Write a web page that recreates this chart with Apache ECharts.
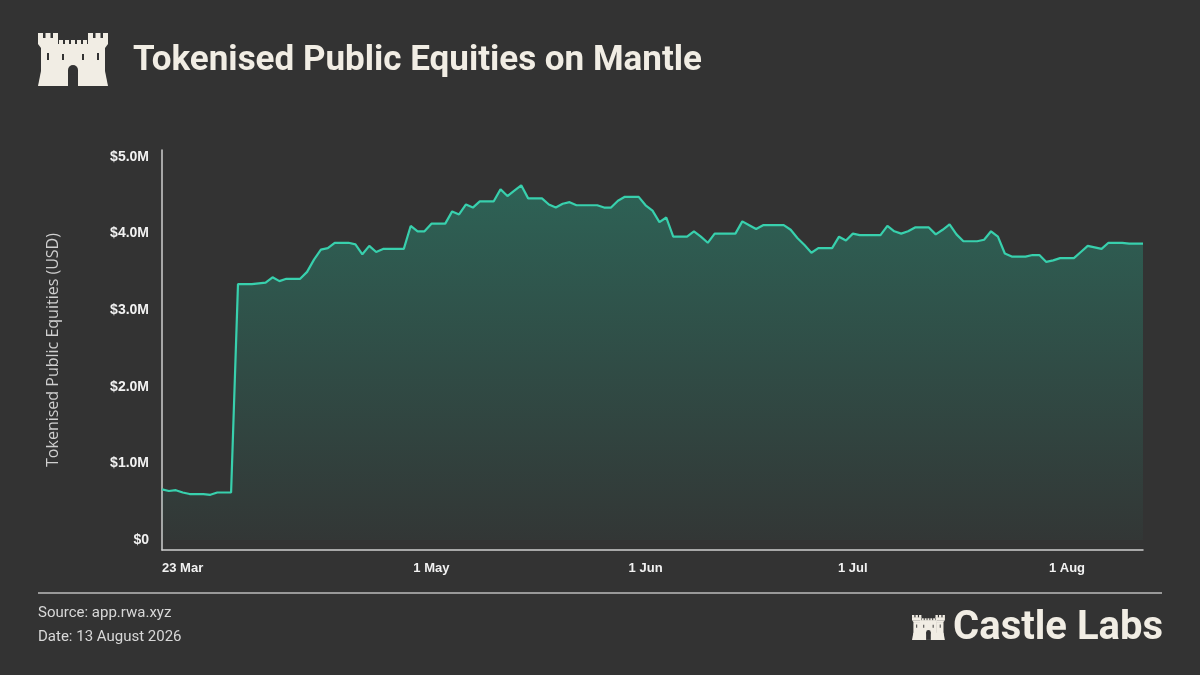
<!DOCTYPE html>
<html>
<head>
<meta charset="utf-8">
<script src="https://cdn.jsdelivr.net/npm/echarts@6/dist/echarts.min.js"></script>
<style>
html,body{margin:0;padding:0;background:#333333;}
#chart{width:1200px;height:675px;}
</style>
</head>
<body>
<div id="chart"></div>
<script>
// ---- data (values in $M, one point per day from 23 Mar) ----
const startDate = [2026, 2, 23]; // 23 Mar 2026
const values = [
  0.66,0.64,0.65,0.62,0.60,0.60,0.60,0.59,0.62,0.62,
  0.62,3.34,3.34,3.34,3.35,3.36,3.43,3.38,3.41,3.41,
  3.41,3.50,3.66,3.79,3.81,3.88,3.88,3.88,3.86,3.73,
  3.84,3.76,3.80,3.80,3.80,3.80,4.10,4.03,4.03,4.13,
  4.13,4.13,4.29,4.25,4.38,4.34,4.42,4.42,4.42,4.58,
  4.49,4.56,4.63,4.46,4.46,4.46,4.38,4.34,4.39,4.41,
  4.37,4.37,4.37,4.37,4.34,4.34,4.43,4.48,4.48,4.48,
  4.37,4.30,4.15,4.21,3.96,3.96,3.96,4.03,3.96,3.88,
  4.00,4.00,4.00,4.00,4.16,4.11,4.06,4.11,4.11,4.11,
  4.11,4.05,3.94,3.85,3.75,3.81,3.81,3.81,3.96,3.91,
  4.00,3.98,3.98,3.98,3.98,4.10,4.03,4.00,4.03,4.08,
  4.08,4.08,3.99,4.05,4.12,3.99,3.90,3.90,3.90,3.92,
  4.03,3.96,3.74,3.70,3.70,3.70,3.72,3.72,3.63,3.65,
  3.68,3.68,3.68,3.76,3.84,3.82,3.80,3.88,3.88,3.88,
  3.87,3.87,3.87
];
const monthNames = ['Jan','Feb','Mar','Apr','May','Jun','Jul','Aug','Sep','Oct','Nov','Dec'];
const categories = values.map((v, i) => {
  const d = new Date(Date.UTC(startDate[0], startDate[1], startDate[2] + i));
  return d.getUTCDate() + ' ' + monthNames[d.getUTCMonth()];
});
const xTickLabels = ['23 Mar', '1 May', '1 Jun', '1 Jul', '1 Aug'];
const yTickValues = [0, 1, 2, 3, 4, 5];

const cream = '#f1ede4';
const bg = '#333333';

function castle(x, y, s) {
  const c = [];
  const R = (a, b, w, h, fill) => c.push({type:'rect', shape:{x:a, y:b, width:w, height:h}, style:{fill: fill || cream}});
  const P = (pts, fill) => c.push({type:'polygon', shape:{points:pts}, style:{fill: fill || cream}});
  // left tower
  R(0,0,5,6); R(7.5,0,5,6); R(15,0,5,6);
  R(0,5,20,6);
  P([[0,11],[20,11],[17,15],[3,15]]);
  R(3,15,14,30);
  // right tower
  R(50,0,5,6); R(57.5,0,5,6); R(65,0,5,6);
  R(50,5,20,6);
  P([[50,11],[70,11],[67,15],[53,15]]);
  R(53,15,14,30);
  // middle wall
  R(21,7,4,5); R(27,7,4,5); R(33,7,4,5); R(39,7,4,5); R(45,7,4,5);
  R(17,11,36,34);
  // base flare
  P([[3,38],[67,38],[70,53],[0,53]]);
  // door and windows
  R(30,37,10,16,bg);
  c.push({type:'circle', shape:{cx:35, cy:37, r:5}, style:{fill:bg}});
  R(9,20,2,7,bg); R(59,20,2,7,bg);
  R(24,21,2,6,bg); R(44,21,2,6,bg);
  return {type:'group', x:x, y:y, scaleX:s, scaleY:s, children:c, silent:true};
}

const chart = echarts.init(document.getElementById('chart'));
chart.setOption({
  animation: false,
  backgroundColor: bg,
  grid: {left: 162, right: 57, top: 150, bottom: 125},
  xAxis: {
    type: 'category',
    data: categories,
    boundaryGap: false,
    axisLine: {show: true, onZero: false, lineStyle: {color: '#cfcfcf', width: 1.5}},
    axisTick: {show: false},
    splitLine: {show: false},
    axisLabel: {
      interval: (idx, val) => xTickLabels.indexOf(val) >= 0,
      color: '#f2f2f2',
      fontFamily: 'Liberation Sans',
      fontWeight: 'bold',
      fontSize: 13,
      margin: 12,
      alignMinLabel: 'left'
    }
  },
  yAxis: {
    type: 'value',
    min: -0.1305,
    max: 5.0914,
    name: 'Tokenised Public Equities (USD)',
    nameLocation: 'middle',
    nameGap: 101,
    nameTextStyle: {color: '#cfcfcf', fontSize: 16, fontFamily: 'Open Sans'},
    axisLine: {show: true, lineStyle: {color: '#cfcfcf', width: 1.5}},
    axisTick: {show: false},
    splitLine: {show: false},
    axisLabel: {
      customValues: yTickValues,
      formatter: v => v === 0 ? '$0' : '$' + v.toFixed(1) + 'M',
      color: '#f2f2f2',
      fontFamily: 'Liberation Sans',
      fontWeight: 'bold',
      fontSize: 14,
      margin: 13
    }
  },
  series: [{
    type: 'line',
    data: values,
    showSymbol: false,
    lineStyle: {color: '#38d0ad', width: 2.2},
    itemStyle: {color: '#38d0ad'},
    areaStyle: {
      color: new echarts.graphic.LinearGradient(0, 0, 0, 1, [
        {offset: 0, color: 'rgba(35,185,150,0.50)'},
        {offset: 1, color: 'rgba(35,185,150,0.04)'}
      ])
    }
  }],
  graphic: [
    castle(38, 33, 1),
    {type:'text', x:133, y:61, style:{text:'Tokenised Public Equities on Mantle', fill:cream, fontFamily:'Roboto', fontWeight:'bold', fontSize:35, verticalAlign:'middle', align:'left'}},
    {type:'line', shape:{x1:38, y1:593, x2:1162, y2:593}, style:{stroke:'#bdbdbd', lineWidth:1.5}},
    {type:'text', x:38, y:613, style:{text:'Source: app.rwa.xyz', fill:'#d8d8d8', fontFamily:'Roboto', fontSize:15, verticalAlign:'middle'}},
    {type:'text', x:38, y:637, style:{text:'Date: 13 August 2026', fill:'#d8d8d8', fontFamily:'Roboto', fontSize:15, verticalAlign:'middle'}},
    castle(912, 615, 0.47),
    {type:'text', x:1163, y:629, style:{text:'Castle Labs', fill:cream, fontFamily:'Roboto', fontWeight:'bold', fontSize:40, verticalAlign:'middle', align:'right'}}
  ]
});
</script>
</body>
</html>
